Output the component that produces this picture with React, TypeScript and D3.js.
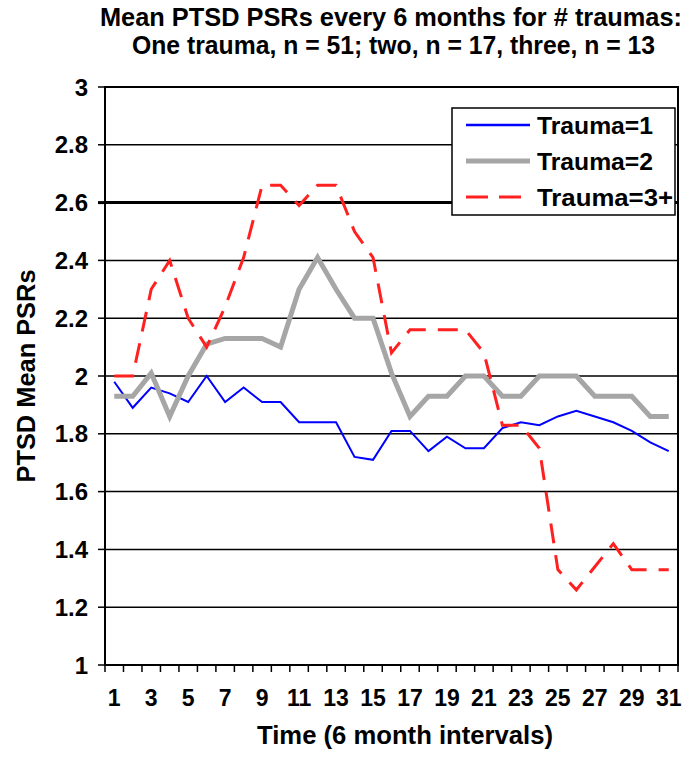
import React from "react";
import * as d3 from "d3";

const categories = d3.range(1, 32).map(String);
const trauma1 = [1.98, 1.89, 1.96, 1.94, 1.91, 2.0, 1.91, 1.96, 1.91, 1.91, 1.84, 1.84, 1.84, 1.72, 1.71, 1.81, 1.81, 1.74, 1.79, 1.75, 1.75, 1.82, 1.84, 1.83, 1.86, 1.88, 1.86, 1.84, 1.81, 1.77, 1.74];
const trauma2 = [1.93, 1.93, 2.01, 1.86, 2.0, 2.11, 2.13, 2.13, 2.13, 2.1, 2.3, 2.41, 2.3, 2.2, 2.2, 2.01, 1.86, 1.93, 1.93, 2.0, 2.0, 1.93, 1.93, 2.0, 2.0, 2.0, 1.93, 1.93, 1.93, 1.86, 1.86];
const trauma3 = [2.0, 2.0, 2.3, 2.4, 2.2, 2.1, 2.24, 2.41, 2.66, 2.66, 2.59, 2.66, 2.66, 2.5, 2.41, 2.08, 2.16, 2.16, 2.16, 2.16, 2.08, 1.83, 1.83, 1.75, 1.33, 1.26, 1.34, 1.42, 1.33, 1.33, 1.33];
const yTicks = [1, 1.2, 1.4, 1.6, 1.8, 2, 2.2, 2.4, 2.6, 2.8, 3];
const seriesNames = ["Trauma=1", "Trauma=2", "Trauma=3+"];
const titleLines = ["Mean PTSD PSRs every 6 months for # traumas:", "One trauma, n = 51; two, n = 17, three, n = 13"];

const FONT = "'Liberation Sans', Arial, sans-serif";

export default function App() {
  const L = 105, R = 678, T = 87, B = 665;
  const x = d3.scaleBand<string>().domain(categories).range([L, R]).padding(0);
  const y = d3.scaleLinear().domain([1, 3]).range([B, T]);
  const cx = (i: number) => (x(categories[i]) as number) + x.bandwidth() / 2;
  const line = d3.line<number>().x((_, i) => cx(i)).y((d) => y(d));

  const series = [
    { name: seriesNames[0], data: trauma1, color: "#0000ff", width: 2, dash: undefined as string | undefined },
    { name: seriesNames[1], data: trauma2, color: "#a6a6a6", width: 5, dash: undefined },
    { name: seriesNames[2], data: trauma3, color: "#ff2020", width: 3, dash: "20,12" },
  ];

  const tickEdges = d3.range(0, categories.length + 1).map((i) => L + i * x.bandwidth());
  const legendRows = [125, 161, 197];
  const legendWidths = [116, 116, 136];

  return (
    <svg width={700} height={757} style={{ position: "absolute", left: 0, top: 0, background: "#fff" }} fontFamily={FONT} fontWeight="bold">
      <rect x={0} y={0} width={700} height={757} fill="#fff" />
      {/* title */}
      <text x={391} y={26} textAnchor="middle" fontSize={26} textLength={582} lengthAdjust="spacingAndGlyphs">{titleLines[0]}</text>
      <text x={393.5} y={54} textAnchor="middle" fontSize={26} textLength={523} lengthAdjust="spacingAndGlyphs">{titleLines[1]}</text>

      {/* gridlines */}
      {yTicks.map((t) => (
        <line key={"g" + t} x1={L} x2={R} y1={y(t)} y2={y(t)} stroke="#000" strokeWidth={t === 2.6 ? 3 : 1.5} />
      ))}
      {/* y ticks & labels */}
      {yTicks.map((t) => (
        <g key={"yt" + t}>
          <line x1={98} x2={L} y1={y(t)} y2={y(t)} stroke="#000" strokeWidth={t === 2.6 ? 3 : 1.5} />
          <text x={88} y={y(t)} dy="0.36em" textAnchor="end" fontSize={24}>{d3.format("")(t)}</text>
        </g>
      ))}
      {/* plot border */}
      <rect x={L} y={T} width={R - L} height={B - T} fill="none" stroke="#000" strokeWidth={2} />
      {/* x ticks */}
      {tickEdges.map((e, i) => (
        <line key={"xt" + i} x1={e} x2={e} y1={B} y2={B + 7} stroke="#000" strokeWidth={1.5} />
      ))}
      {categories.map((c, i) =>
        i % 2 === 0 ? (
          <text key={"xl" + c} x={cx(i)} y={706} textAnchor="middle" fontSize={23}>{c}</text>
        ) : null
      )}
      <text x={405} y={744} textAnchor="middle" fontSize={26} textLength={296} lengthAdjust="spacingAndGlyphs">Time (6 month intervals)</text>
      <text transform="translate(35,376) rotate(-90)" textAnchor="middle" fontSize={26} textLength={213} lengthAdjust="spacingAndGlyphs">PTSD Mean PSRs</text>

      {/* series */}
      {series.map((s) => (
        <path key={s.name} d={line(s.data) || ""} fill="none" stroke={s.color} strokeWidth={s.width} strokeDasharray={s.dash} strokeLinejoin="miter" />
      ))}

      {/* legend */}
      <rect x={452} y={108} width={223} height={107} fill="#fff" stroke="#000" strokeWidth={1.5} />
      {series.map((s, i) => (
        <g key={"lg" + s.name}>
          <line x1={466} x2={530} y1={legendRows[i]} y2={legendRows[i]} stroke={s.color} strokeWidth={s.width === 2 ? 2.5 : s.width} strokeDasharray={s.dash ? "22,11" : undefined} />
          <text x={537} y={legendRows[i]} dy="0.36em" fontSize={24} textLength={legendWidths[i]} lengthAdjust="spacingAndGlyphs">{s.name}</text>
        </g>
      ))}
    </svg>
  );
}
